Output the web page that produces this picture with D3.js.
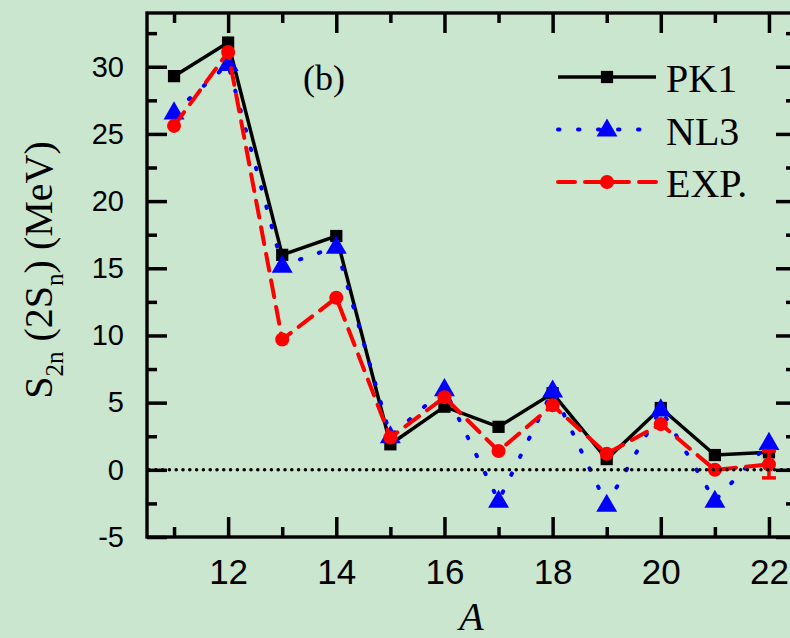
<!DOCTYPE html>
<html>
<head>
<meta charset="utf-8">
<script src="https://cdn.jsdelivr.net/npm/d3@7"></script>
<style>
  body { margin: 0; background: #cbe6cf; }
  svg { display: block; }
  .tick line { stroke-width: 3.5px; stroke: #000; }
</style>
</head>
<body>
<div id="container"></div>
<script>
const width = 790;
const height = 638;

// mass number A
const massNumbers = [11, 12, 13, 14, 15, 16, 17, 18, 19, 20, 21, 22];
// S2n (2Sn) in MeV
const pk1 = [29.3, 31.8, 16.0, 17.4, 1.9, 4.7, 3.2, 5.7, 0.8, 4.6, 1.1, 1.3];
const nl3 = [26.6, 30.2, 15.2, 16.6, 2.5, 6.0, -2.3, 5.9, -2.6, 4.5, -2.3, 2.0];
const expt = [25.6, 31.1, 9.7, 12.8, 2.4, 5.4, 1.4, 4.8, 1.2, 3.4, 0.0, 0.4];
const exptErr = [0, 0, 0, 0, 0, 0, 0, 0, 0, 0, 0, 1.0];

const xMajor = [12, 14, 16, 18, 20, 22];
const xMinor = [11, 13, 15, 17, 19, 21];
const yMajor = [-5, 0, 5, 10, 15, 20, 25, 30];
const yMinor = [-2.5, 2.5, 7.5, 12.5, 17.5, 22.5, 27.5, 32.5];

const x = d3.scaleLinear().domain([10.5, 22.5]).range([147, 796]);
const y = d3.scaleLinear().domain([-5, 34]).range([537, 13]);

const svg = d3.select('#container')
  .append('svg')
  .attr('width', width)
  .attr('height', height);

svg.append('rect')
  .attr('width', width)
  .attr('height', height)
  .attr('fill', '#cbe6cf');

const serif = "'Liberation Serif', 'Times New Roman', serif";
const sans = "'Liberation Sans', Arial, sans-serif";
const plain = d => String(d);

// axes with inward ticks
const styleAxis = g => g
  .attr('stroke-width', 3.5)
  .call(el => el.select('.domain').remove())
  .call(el => el.selectAll('.tick line')
    .attr('stroke', '#000')
    .attr('stroke-width', 3.5))
  .call(el => el.selectAll('.tick text').attr('fill', '#000').attr('stroke', 'none'));

svg.append('g')
  .attr('transform', `translate(0,${y(-5)})`)
  .call(d3.axisBottom(x).tickValues(xMajor).tickSizeInner(-20).tickSizeOuter(0).tickPadding(22).tickFormat(plain))
  .attr('font-family', sans).attr('font-size', 35)
  .call(styleAxis);
svg.append('g')
  .attr('transform', `translate(0,${y(-5)})`)
  .call(d3.axisBottom(x).tickValues(xMinor).tickSizeInner(-10).tickSizeOuter(0).tickFormat(''))
  .call(styleAxis);
svg.append('g')
  .attr('transform', `translate(0,${y(34)})`)
  .call(d3.axisTop(x).tickValues(xMajor).tickSizeInner(-20).tickSizeOuter(0).tickFormat(''))
  .call(styleAxis);
svg.append('g')
  .attr('transform', `translate(0,${y(34)})`)
  .call(d3.axisTop(x).tickValues(xMinor).tickSizeInner(-10).tickSizeOuter(0).tickFormat(''))
  .call(styleAxis);

svg.append('g')
  .attr('transform', `translate(${x(10.5)},0)`)
  .call(d3.axisLeft(y).tickValues(yMajor).tickSizeInner(-20).tickSizeOuter(0).tickPadding(23).tickFormat(plain))
  .attr('font-family', sans).attr('font-size', 29)
  .call(styleAxis);
svg.append('g')
  .attr('transform', `translate(${x(10.5)},0)`)
  .call(d3.axisLeft(y).tickValues(yMinor).tickSizeInner(-10).tickSizeOuter(0).tickFormat(''))
  .call(styleAxis);
svg.append('g')
  .attr('transform', `translate(${x(22.5)},0)`)
  .call(d3.axisRight(y).tickValues(yMajor).tickSizeInner(-20).tickSizeOuter(0).tickFormat(''))
  .call(styleAxis);
svg.append('g')
  .attr('transform', `translate(${x(22.5)},0)`)
  .call(d3.axisRight(y).tickValues(yMinor).tickSizeInner(-10).tickSizeOuter(0).tickFormat(''))
  .call(styleAxis);

// frame
svg.append('rect')
  .attr('x', x(10.5))
  .attr('y', y(34))
  .attr('width', x(22.5) - x(10.5))
  .attr('height', y(-5) - y(34))
  .attr('fill', 'none')
  .attr('stroke', '#000')
  .attr('stroke-width', 3.4);

const line = d3.line().x(d => x(d[0])).y(d => y(d[1]));
const zip = vals => massNumbers.map((a, i) => [a, vals[i]]);

const series = [
  { name: 'PK1', values: pk1, color: '#000', dash: null, width: 3.5, marker: 'square' },
  { name: 'NL3', values: nl3, color: '#0000ff', dash: '1.5,18.5', width: 4, marker: 'triangle' },
  { name: 'EXP.', values: expt, color: '#ff0000', dash: '17,10', width: 4, marker: 'circle' }
];

const symbols = {
  square: d3.symbol().type(d3.symbolSquare).size(150),
  triangle: d3.symbol().type(d3.symbolTriangle).size(190),
  circle: d3.symbol().type(d3.symbolCircle).size(155)
};

function drawMarker(g, s, cx, cy) {
  g.append('path')
    .attr('d', symbols[s.marker]())
    .attr('transform', `translate(${cx},${cy + (s.marker === 'triangle' ? 1 : 0)})`)
    .attr('fill', s.color);
}

series.forEach(s => {
  const g = svg.append('g');
  g.append('path')
    .datum(zip(s.values))
    .attr('d', line)
    .attr('fill', 'none')
    .attr('stroke', s.color)
    .attr('stroke-width', s.width)
    .attr('stroke-dasharray', s.dash)
    .attr('stroke-linecap', s.dash ? 'round' : 'butt');
  if (s.name === 'EXP.') {
    massNumbers.forEach((a, i) => {
      if (!exptErr[i]) return;
      const eg = g.append('g').attr('stroke', s.color).attr('stroke-width', 3.5);
      eg.append('line').attr('x1', x(a)).attr('x2', x(a))
        .attr('y1', y(expt[i] - exptErr[i])).attr('y2', y(expt[i] + exptErr[i]));
      [expt[i] - exptErr[i], expt[i] + exptErr[i]].forEach(v => {
        eg.append('line').attr('x1', x(a) - 7).attr('x2', x(a) + 7)
          .attr('y1', y(v)).attr('y2', y(v));
      });
    });
  }
  zip(s.values).forEach(d => drawMarker(g, s, x(d[0]), y(d[1])));
});

// zero line
svg.append('line')
  .attr('x1', x(10.5) + 2)
  .attr('x2', x(22.5))
  .attr('y1', y(0))
  .attr('y2', y(0))
  .attr('stroke', '#000')
  .attr('stroke-width', 3.6)
  .attr('stroke-dasharray', '0,6.8')
  .attr('stroke-linecap', 'round');

// legend
const legend = svg.append('g').attr('transform', 'translate(558,77)');
series.forEach((s, i) => {
  const row = legend.append('g').attr('transform', `translate(0,${i * 52.5})`);
  row.append('line')
    .attr('x1', 0).attr('x2', 98)
    .attr('stroke', s.color)
    .attr('stroke-width', s.width)
    .attr('stroke-dasharray', s.dash)
    .attr('stroke-linecap', s.dash ? 'round' : 'butt');
  drawMarker(row, s, 49, 0);
  row.append('text')
    .attr('x', 108)
    .attr('y', 15)
    .attr('font-family', serif)
    .attr('font-size', 40)
    .text(s.name);
});

// panel label
svg.append('text')
  .attr('x', 303)
  .attr('y', 90)
  .attr('font-family', serif)
  .attr('font-size', 36)
  .text('(b)');

// axis titles
const yTitle = svg.append('text')
  .attr('transform', 'translate(52,270) rotate(-90)')
  .attr('text-anchor', 'middle')
  .attr('font-family', serif)
  .attr('font-size', 40);
yTitle.append('tspan').text('S');
yTitle.append('tspan').attr('font-size', 25).attr('dy', 11).text('2n');
yTitle.append('tspan').attr('dy', -11).text(' (2S');
yTitle.append('tspan').attr('font-size', 25).attr('dy', 11).text('n');
yTitle.append('tspan').attr('dy', -11).text(') (MeV)');

svg.append('text')
  .attr('x', x(16.5))
  .attr('y', 630)
  .attr('text-anchor', 'middle')
  .attr('font-family', serif)
  .attr('font-style', 'italic')
  .attr('font-size', 40)
  .text('A');
</script>
</body>
</html>
